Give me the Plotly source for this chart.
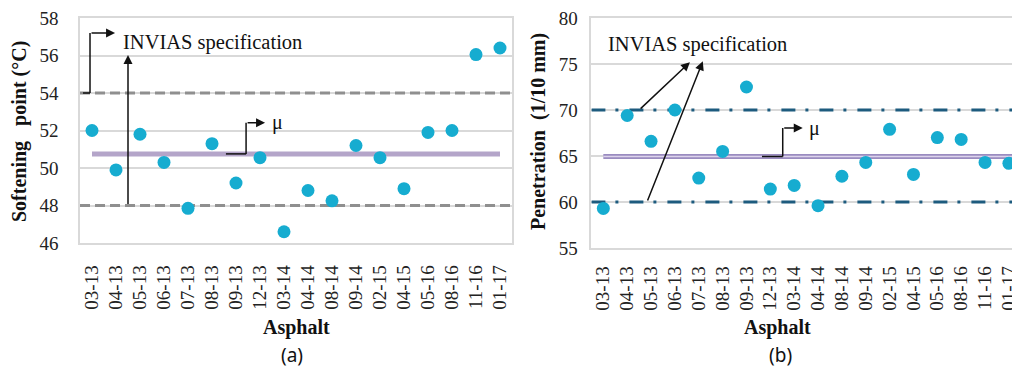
import numpy as np
import plotly.graph_objects as go

# Asphalt batches (month-year)
categories = ["03-13", "04-13", "05-13", "06-13", "07-13", "08-13", "09-13", "12-13",
              "03-14", "04-14", "08-14", "09-14", "02-15", "04-15", "05-16", "08-16",
              "11-16", "01-17"]
softening = [52.0, 49.9, 51.8, 50.3, 47.85, 51.3, 49.2, 50.55, 46.6, 48.8, 48.25,
             51.2, 50.55, 48.9, 51.9, 52.0, 56.05, 56.4]
penetration = [59.3, 69.4, 66.6, 70.0, 62.6, 65.5, 72.5, 61.4, 61.8, 59.6, 62.8,
               64.3, 67.9, 63.0, 67.0, 66.8, 64.3, 64.2]
soft_spec = [48, 54]   # INVIAS limits, softening point (°C)
pen_spec = [60, 70]    # INVIAS limits, penetration (1/10 mm)

W, H = 1012, 369
idx = np.arange(len(categories))
soft_mean = float(np.mean(softening))
pen_mean = float(np.mean(penetration))

SERIF = "Liberation Serif"
SANS = "Noto Sans"
DOT = "#16acd0"
GRID = "#d9d9d9"
X_A = [-0.5, 17.5]     # full extent of panel (a) x axis
X_B = [-0.5, 17.13]    # visible extent of panel (b) x axis


def px_x(p):
    return p / W


def px_y(p):
    return 1 - p / H


fig = go.Figure()

# ---- panel (a): softening point ----
for v in soft_spec:
    fig.add_trace(go.Scatter(x=X_A, y=[v, v], mode="lines",
                             line=dict(color="#8f8f8f", width=3, dash="10px,5px"),
                             xaxis="x", yaxis="y", hoverinfo="skip"))
fig.add_trace(go.Scatter(x=[idx[0], idx[-1]], y=[soft_mean, soft_mean], mode="lines",
                         line=dict(color="#b4a5c9", width=5), xaxis="x", yaxis="y",
                         hoverinfo="skip"))
fig.add_trace(go.Scatter(x=idx, y=softening, mode="markers",
                         marker=dict(color=DOT, size=13), xaxis="x", yaxis="y"))

# ---- panel (b): penetration ----
for v in pen_spec:
    fig.add_trace(go.Scatter(x=X_B, y=[v, v], mode="lines",
                             line=dict(color="#1d5b7e", width=3, dash="14px,10px,3px,11px"),
                             xaxis="x2", yaxis="y2", hoverinfo="skip"))
fig.add_trace(go.Scatter(x=[idx[0], X_B[1]], y=[pen_mean, pen_mean], mode="lines",
                         line=dict(color="#9a8cc0", width=5), xaxis="x2", yaxis="y2",
                         hoverinfo="skip"))
fig.add_trace(go.Scatter(x=[idx[0], X_B[1]], y=[pen_mean, pen_mean], mode="lines",
                         line=dict(color="#ddd3ec", width=1.5), xaxis="x2", yaxis="y2",
                         hoverinfo="skip"))
fig.add_trace(go.Scatter(x=idx, y=penetration, mode="markers",
                         marker=dict(color=DOT, size=13), xaxis="x2", yaxis="y2"))

shapes = []


def seg(xr, yr, x0, y0, x1, y1):
    shapes.append(dict(type="line", xref=xr, yref=yr, x0=x0, y0=y0, x1=x1, y1=y1,
                       line=dict(color="#111111", width=1.5)))


annotations = []


def arrow(xr, yr, x0, y0, x1, y1):
    annotations.append(dict(xref=xr, yref=yr, axref=xr, ayref=yr, x=x1, y=y1, ax=x0, ay=y0,
                            text="", showarrow=True, arrowhead=2, arrowsize=1.2,
                            arrowwidth=1.5, arrowcolor="#111111", standoff=0,
                            startstandoff=0))


def label(xr, yr, x, y, text, size=20, xanchor="left"):
    annotations.append(dict(xref=xr, yref=yr, x=x, y=y, text=text, showarrow=False,
                            xanchor=xanchor, yanchor="middle",
                            font=dict(family=SERIF, size=size, color="#111111")))


# elbow pointers in panel (a)
seg("x", "y", -0.375, soft_spec[1], -0.083, soft_spec[1])
seg("x", "y", -0.083, soft_spec[1], -0.083, 57.2)
arrow("x", "y", -0.083, 57.2, 0.96, 57.2)
arrow("x", "y", 1.5, soft_spec[0], 1.5, 56.03)
label("x", "y", 1.22, 56.67, "INVIAS specification", size=20.5)
seg("x", "y", 5.58, soft_mean, 6.42, soft_mean)
seg("x", "y", 6.42, soft_mean, 6.42, 52.42)
arrow("x", "y", 6.42, 52.42, 7.21, 52.42)
label("x", "y", 7.73, 52.45, "μ", xanchor="center")

# pointers in panel (b)
arrow("x2", "y2", 1.5, pen_spec[1], 3.63, 75.2)
arrow("x2", "y2", 1.83, pen_spec[0], 4.17, 75.3)
label("x2", "y2", 0.12, 77.07, "INVIAS specification", size=20.5)
seg("x2", "y2", 6.65, pen_mean, 7.52, pen_mean)
seg("x2", "y2", 7.52, pen_mean, 7.52, 68.04)
arrow("x2", "y2", 7.52, 68.04, 8.36, 68.04)
label("x2", "y2", 8.86, 68.04, "μ", xanchor="center")


# axis titles and panel tags in pixel positions
def page_text(x, y, text, size, family=SERIF, angle=0):
    annotations.append(dict(xref="paper", yref="paper", x=px_x(x), y=px_y(y), text=text,
                            showarrow=False, xanchor="center", yanchor="middle",
                            textangle=angle, font=dict(family=family, size=size,
                                                       color="#111111")))


page_text(20, 132, "<b>Softening   point (°C)</b>", 20, angle=-90)
page_text(539, 132, "<b>Penetration  (1/10 mm)</b>", 20, angle=-90)
page_text(296, 327, "<b>Asphalt</b>", 20)
page_text(777, 327, "<b>Asphalt</b>", 20)
page_text(292, 355, "(a)", 19, family=SANS)
page_text(780, 355, "(b)", 19, family=SANS)

xcommon = dict(tickmode="array", tickvals=idx, ticktext=categories, tickangle=-90,
               showgrid=False, zeroline=False, showline=True, mirror=True,
               linecolor=GRID, linewidth=1.5, ticks="", ticklabeloverflow="allow",
               tickfont=dict(family=SERIF, size=19, color="#222222"))
ycommon = dict(showgrid=True, gridcolor=GRID, gridwidth=1.5, zeroline=False,
               showline=True, mirror=True, linecolor=GRID, linewidth=1.5, ticks="",
               tickfont=dict(family=SERIF, size=19, color="#222222"))

fig.update_layout(
    width=W, height=H, margin=dict(l=0, r=0, t=0, b=0, autoexpand=False),
    paper_bgcolor="white", plot_bgcolor="white", showlegend=False,
    xaxis=dict(domain=[px_x(80), px_x(512)], range=X_A, anchor="y",
               ticklabelstandoff=13, **xcommon),
    yaxis=dict(domain=[px_y(243), px_y(18)], range=[46, 58], dtick=2, anchor="x",
               ticklabelstandoff=16, **ycommon),
    xaxis2=dict(domain=[px_x(591.4), 1.0], range=X_B, anchor="y2",
                ticklabelstandoff=9, **xcommon),
    yaxis2=dict(domain=[px_y(248), px_y(18)], range=[55, 80], dtick=5, anchor="x2",
                ticklabelstandoff=8, **ycommon),
    shapes=shapes, annotations=annotations,
)

# page chrome: no body margin or scrollbars around the fixed-size figure
fig.write_html("out.html", config={"responsive": False},
               post_script="document.body.style.margin='0';"
                           "document.documentElement.style.overflow='hidden';")
